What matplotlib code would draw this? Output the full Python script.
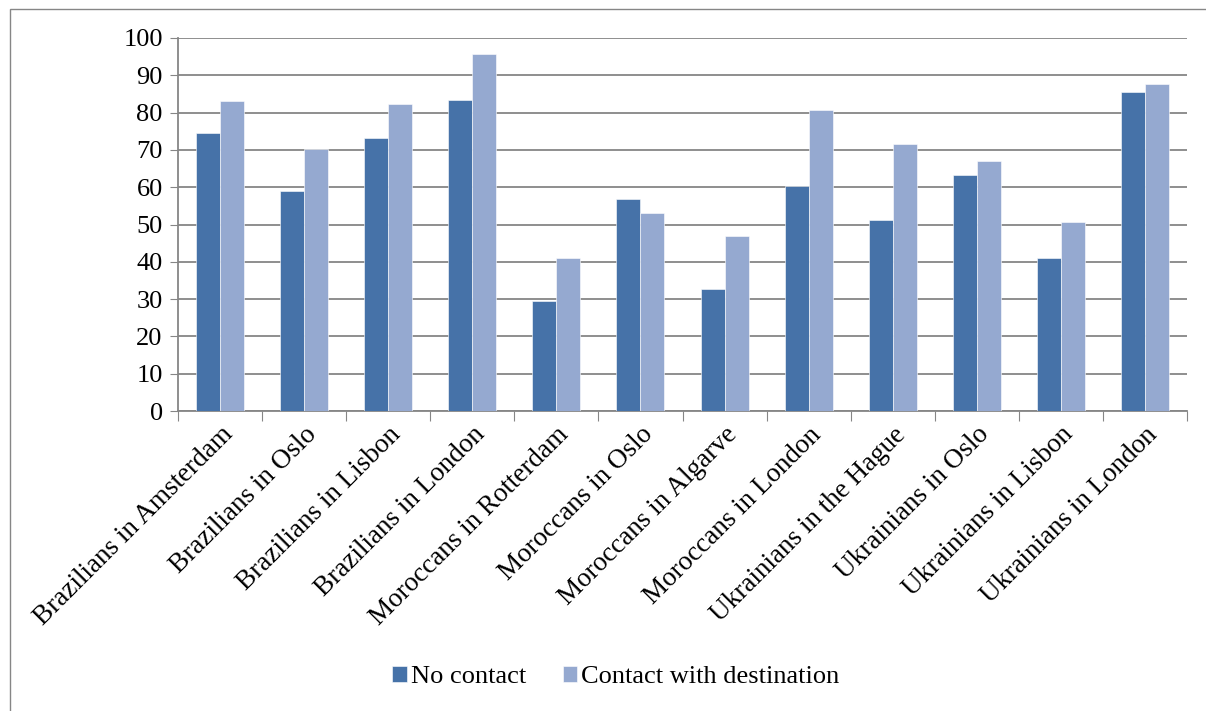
import matplotlib.pyplot as plt
import numpy as np
from matplotlib.patches import Rectangle

# DATA
categories = ['Brazilians in Amsterdam', 'Brazilians in Oslo', 'Brazilians in Lisbon',
              'Brazilians in London', 'Moroccans in Rotterdam', 'Moroccans in Oslo',
              'Moroccans in Algarve', 'Moroccans in London', 'Ukrainians in the Hague',
              'Ukrainians in Oslo', 'Ukrainians in Lisbon', 'Ukrainians in London']
no_contact = [74.4, 59.1, 73.1, 83.5, 29.6, 56.9, 32.6, 60.3, 51.2, 63.4, 40.9, 85.5]
contact_dest = [83.2, 70.2, 82.2, 95.6, 40.9, 53.1, 46.9, 80.6, 71.7, 67.0, 50.7, 87.6]
series_names = ['No contact', 'Contact with destination']
yticks = np.arange(0, 101, 10)

plt.rcParams['font.family'] = ['Liberation Serif', 'DejaVu Serif']
fs = 19

fig = plt.figure(figsize=(12.06, 7.11), dpi=100)
ax = fig.add_axes([178/1206, 1 - 411/711, (1187-178)/1206, (411-38)/711])

x = np.arange(len(categories))
w = 0.285
ax.bar(x - w/2, no_contact, w, color='#4672A8', edgecolor='white', linewidth=0.4,
       label=series_names[0], zorder=3)
ax.bar(x + w/2, contact_dest, w, color='#95A9D0', edgecolor='white', linewidth=0.4,
       label=series_names[1], zorder=3)

ax.set_xlim(-0.5, len(categories) - 0.5)
ax.set_ylim(0, 100)
ax.set_yticks(yticks)
ax.set_yticklabels([str(v) for v in yticks], fontsize=fs)
ax.yaxis.grid(True, color='#868686', linewidth=1.3, zorder=0)
ax.tick_params(axis='y', length=6, color='#868686', direction='out', pad=5)

# x ticks at group boundaries, labels at group centres
ax.set_xticks(np.arange(-0.5, len(categories), 1.0))
ax.set_xticklabels([])
ax.set_xticks(x, minor=True)
ax.set_xticklabels(categories, minor=True, rotation=45, ha='right', va='top',
                   rotation_mode='anchor', fontsize=19.5)
ax.tick_params(axis='x', which='major', length=7, color='#868686', direction='out')
ax.tick_params(axis='x', which='minor', length=0, pad=8)

for s in ['top', 'right']:
    ax.spines[s].set_visible(False)
for s in ['left', 'bottom']:
    ax.spines[s].set_color('#868686')
    ax.spines[s].set_linewidth(1.3)

fig.legend(loc='center', bbox_to_anchor=(616/1206, 1 - 677/711), ncol=2, frameon=False,
           fontsize=fs, handlelength=0.55, handleheight=0.55, handletextpad=0.15,
           columnspacing=1.4)

# outer chart border (runs off the right and bottom edges)
fig.patches.append(Rectangle((10/1206, -0.05), 1.2, 1.05 - 9/711, transform=fig.transFigure,
                             fill=False, edgecolor='#868686', linewidth=1.0))

plt.savefig('out.png', dpi=100)
